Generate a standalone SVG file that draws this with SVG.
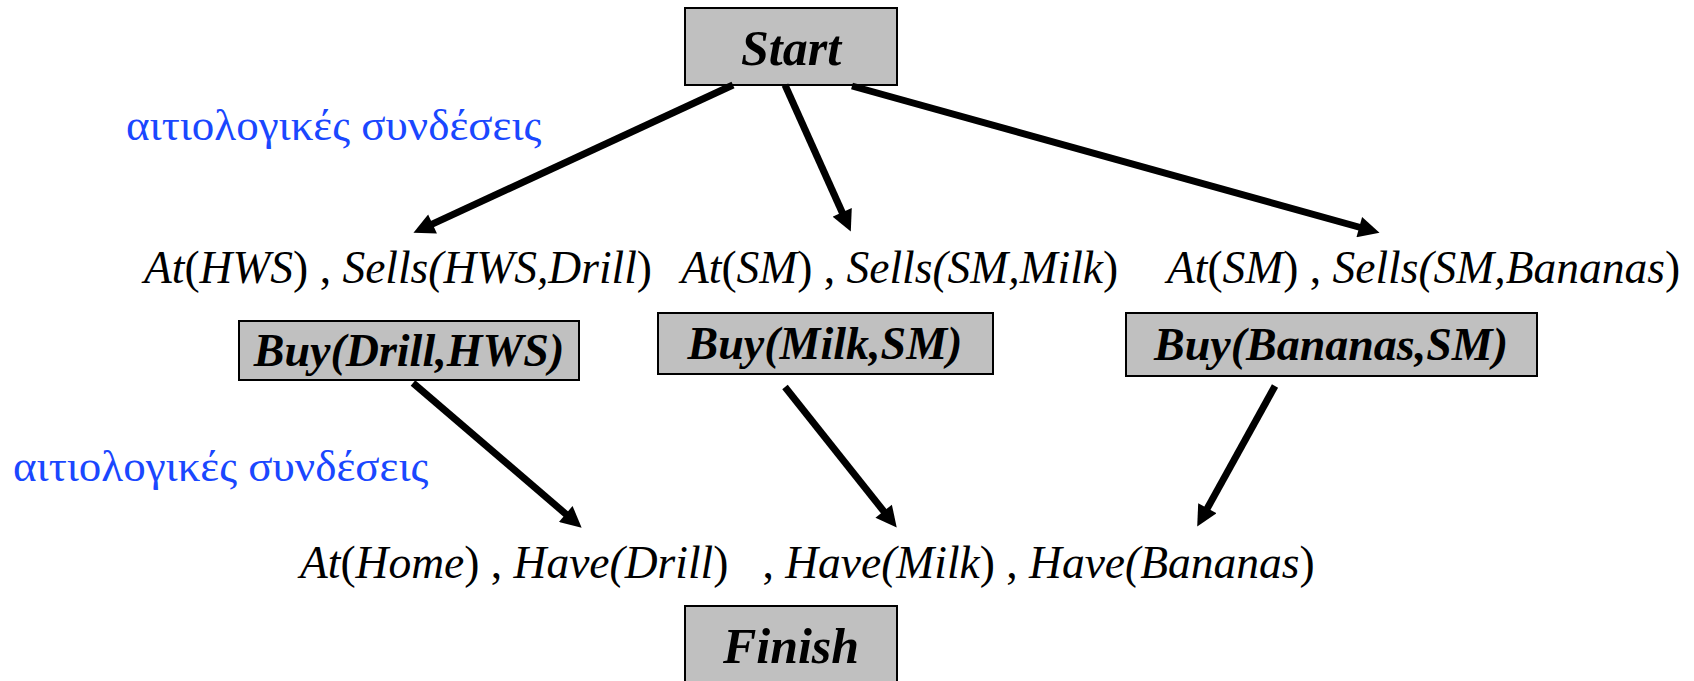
<svg xmlns="http://www.w3.org/2000/svg" width="1694" height="681" viewBox="0 0 1694 681">
  <style>
    .box { fill: #c0c0c0; stroke: #000; stroke-width: 2; }
    .lbl { font-family: 'Liberation Serif', 'Times New Roman', Times, serif; font-weight: bold; font-style: italic; text-anchor: middle; fill: #000; }
    .cond { font-family: 'Liberation Serif', 'Times New Roman', Times, serif; font-size: 45.5px; fill: #000; }
    .it { font-style: italic; }
    .note { font-family: 'Liberation Serif', 'Times New Roman', Times, serif; font-size: 45px; fill: #1a47ff; }
    .edge { stroke: #000; stroke-width: 7; fill: none; marker-end: url(#head); }
  </style>
  <defs>
    <marker id="head" viewBox="0 0 10 10" refX="5" refY="5" markerWidth="3.2" markerHeight="3" orient="auto" markerUnits="strokeWidth">
      <path d="M0,0 L10,5 L0,10 z" fill="#000"/>
    </marker>
  </defs>
  <rect width="1694" height="681" fill="#fff"/>

  <!-- causal-link captions -->
  <text class="note" x="126" y="140">αιτιολογικές συνδέσεις</text>
  <text class="note" x="13" y="481">αιτιολογικές συνδέσεις</text>

  <!-- preconditions -->
  <text class="cond" x="144" y="283" xml:space="preserve"><tspan class="it">At</tspan>(<tspan class="it">HWS</tspan>) , <tspan class="it">Sells(HWS,Drill</tspan>)</text>
  <text class="cond" x="681" y="283" xml:space="preserve"><tspan class="it">At</tspan>(<tspan class="it">SM</tspan>) , <tspan class="it">Sells(SM,Milk</tspan>)</text>
  <text class="cond" x="1167" y="283" xml:space="preserve"><tspan class="it">At</tspan>(<tspan class="it">SM</tspan>) , <tspan class="it">Sells(SM,Bananas</tspan>)</text>
  <text class="cond" x="300" y="578" xml:space="preserve"><tspan class="it">At</tspan>(<tspan class="it">Home</tspan>) , <tspan class="it">Have(Drill</tspan>)   , <tspan class="it">Have(Milk</tspan>) , <tspan class="it">Have(Bananas</tspan>)</text>

  <g id="start">
    <rect class="box" x="685" y="8" width="212" height="77"/>
    <text class="lbl" x="791" y="65" font-size="50">Start</text>
  </g>
  <g id="buy-drill">
    <rect class="box" x="239" y="321" width="340" height="59"/>
    <text class="lbl" x="409" y="366" font-size="46">Buy(Drill,HWS)</text>
  </g>
  <g id="buy-milk">
    <rect class="box" x="658" y="313" width="335" height="61"/>
    <text class="lbl" x="825" y="359" font-size="46">Buy(Milk,SM)</text>
  </g>
  <g id="buy-bananas">
    <rect class="box" x="1126" y="313" width="411" height="63"/>
    <text class="lbl" x="1331" y="360" font-size="46">Buy(Bananas,SM)</text>
  </g>
  <g id="finish">
    <rect class="box" x="685" y="606" width="212" height="90"/>
    <text class="lbl" x="791" y="663" font-size="50">Finish</text>
  </g>

  <g id="connectors">
    <line class="edge" x1="733" y1="85" x2="423" y2="228.4"/>
    <line class="edge" x1="785" y1="85" x2="846.5" y2="222"/>
    <line class="edge" x1="852" y1="86" x2="1369.4" y2="230"/>
    <line class="edge" x1="413" y1="383" x2="573.7" y2="520.8"/>
    <line class="edge" x1="785" y1="387" x2="890.2" y2="519.4"/>
    <line class="edge" x1="1275" y1="386" x2="1202.3" y2="517.4"/>
  </g>
</svg>
